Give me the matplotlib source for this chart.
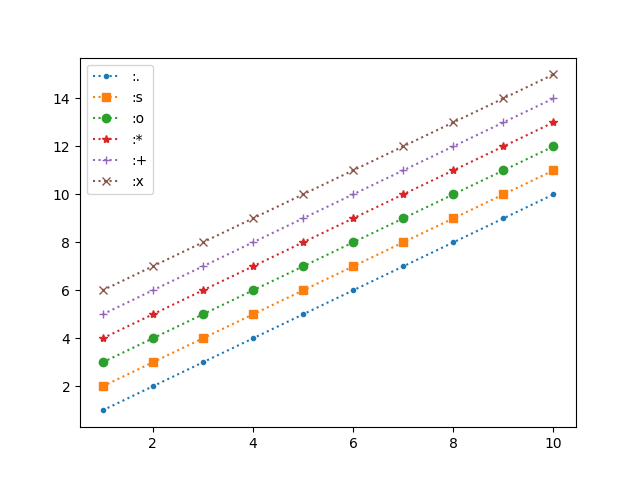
import matplotlib
matplotlib.use("Agg")
import matplotlib.pyplot as plt

# x positions shared by every series
x = [1, 2, 3, 4, 5, 6, 7, 8, 9, 10]

# one list of y values per line style
y_dot = [1, 2, 3, 4, 5, 6, 7, 8, 9, 10]
y_square = [2, 3, 4, 5, 6, 7, 8, 9, 10, 11]
y_circle = [3, 4, 5, 6, 7, 8, 9, 10, 11, 12]
y_star = [4, 5, 6, 7, 8, 9, 10, 11, 12, 13]
y_plus = [5, 6, 7, 8, 9, 10, 11, 12, 13, 14]
y_cross = [6, 7, 8, 9, 10, 11, 12, 13, 14, 15]

styles = [':.', ':s', ':o', ':*', ':+', ':x']
series = [y_dot, y_square, y_circle, y_star, y_plus, y_cross]

fig, ax = plt.subplots(figsize=(6.4, 4.8), dpi=100)
for fmt, ys in zip(styles, series):
    ax.plot(x, ys, fmt, label=fmt)
ax.legend(loc='upper left')

fig.savefig("out.png")
